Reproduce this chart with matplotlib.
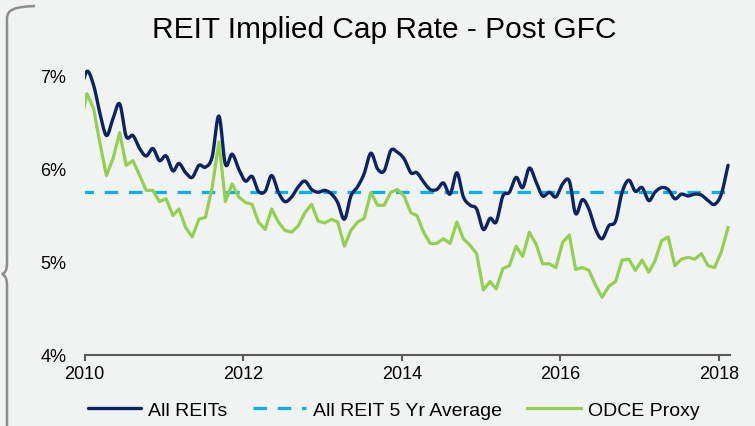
import numpy as np
import pandas as pd
import matplotlib
matplotlib.use("Agg")
from matplotlib import pyplot as plt
import matplotlib.dates as mdates
from matplotlib.path import Path
from matplotlib.patches import PathPatch

# data, monthly, Dec 2009 .. Feb 2018 (first point sits left of the axis start)
dates = pd.date_range("2009-12-01", periods=99, freq="MS") + pd.Timedelta(days=11)

all_reits = [6.80,
             7.05, 6.90, 6.61, 6.36, 6.54, 6.70, 6.35, 6.36, 6.22, 6.14, 6.22, 6.09,
             6.14, 5.98, 6.06, 5.96, 5.91, 6.04, 6.02, 6.13, 6.57, 6.05, 6.16, 6.00,
             5.87, 5.92, 5.76, 5.76, 5.93, 5.75, 5.65, 5.70, 5.81, 5.87, 5.78, 5.75,
             5.77, 5.73, 5.64, 5.46, 5.71, 5.81, 5.95, 6.17, 6.00, 5.98, 6.20, 6.18,
             6.11, 5.96, 5.96, 5.86, 5.78, 5.78, 5.85, 5.73, 5.96, 5.70, 5.61, 5.57,
             5.35, 5.47, 5.43, 5.71, 5.75, 5.91, 5.80, 6.01, 5.86, 5.71, 5.75, 5.70,
             5.84, 5.87, 5.52, 5.67, 5.57, 5.35, 5.25, 5.39, 5.44, 5.75, 5.88, 5.76,
             5.80, 5.66, 5.75, 5.80, 5.78, 5.68, 5.73, 5.71, 5.73, 5.72, 5.66, 5.62,
             5.73, 6.04]

odce_proxy = [6.45,
              6.81, 6.65, 6.29, 5.93, 6.11, 6.39, 6.04, 6.09, 5.93, 5.77, 5.77, 5.65,
              5.68, 5.50, 5.57, 5.37, 5.27, 5.46, 5.48, 5.80, 6.29, 5.65, 5.84, 5.70,
              5.64, 5.62, 5.43, 5.35, 5.57, 5.43, 5.34, 5.32, 5.39, 5.53, 5.62, 5.44,
              5.42, 5.46, 5.43, 5.17, 5.34, 5.43, 5.47, 5.75, 5.61, 5.61, 5.75, 5.78,
              5.71, 5.53, 5.50, 5.32, 5.20, 5.20, 5.25, 5.20, 5.43, 5.25, 5.18, 5.09,
              4.70, 4.79, 4.71, 4.93, 4.96, 5.17, 5.06, 5.32, 5.19, 4.98, 4.98, 4.94,
              5.21, 5.29, 4.92, 4.94, 4.91, 4.75, 4.62, 4.74, 4.79, 5.02, 5.03, 4.91,
              5.02, 4.89, 5.01, 5.23, 5.27, 4.96, 5.03, 5.05, 5.03, 5.09, 4.96, 4.94,
              5.11, 5.37]

avg_5yr = 5.75

labels = ["All REITs", "All REIT 5 Yr Average", "ODCE Proxy"]
y_ticks = [4, 5, 6, 7]

NAVY = "#0a2463"
CYAN = "#00b0f0"
GREEN = "#92d050"
BG = "#f1f2f2"
FONT = "Liberation Sans"

W, H = 755, 427


def smooth(x, y, steps=12):
  # catmull-rom, close to excel's "smoothed line"
  x = np.asarray(x, float)
  y = np.asarray(y, float)
  px = np.concatenate([[2 * x[0] - x[1]], x, [2 * x[-1] - x[-2]]])
  py = np.concatenate([[2 * y[0] - y[1]], y, [2 * y[-1] - y[-2]]])
  t = np.linspace(0, 1, steps, endpoint=False)
  xs, ys = [], []
  for i in range(1, len(px) - 2):
    for p, out in ((px, xs), (py, ys)):
      p0, p1, p2, p3 = p[i - 1], p[i], p[i + 1], p[i + 2]
      out.append(0.5 * (2 * p1 + (-p0 + p2) * t
                        + (2 * p0 - 5 * p1 + 4 * p2 - p3) * t ** 2
                        + (-p0 + 3 * p1 - 3 * p2 + p3) * t ** 3))
  xs.append([x[-1]])
  ys.append([y[-1]])
  return np.concatenate(xs), np.concatenate(ys)


def fx(px):
  return px / W


def fy(py):
  return 1 - py / H


def main():
  plt.rcParams["font.family"] = [FONT, "DejaVu Sans"]

  fig = plt.figure(figsize=(W / 100, H / 100), dpi=100, facecolor=BG)
  ax = fig.add_axes([fx(84.5), fy(356), fx(730) - fx(84.5), fy(53.75) - fy(356)])
  ax.set_facecolor(BG)

  xnum = mdates.date2num(dates)
  sx, sy = smooth(xnum, all_reits)
  ax.plot(sx, sy, color=NAVY, lw=2.4, label=labels[0], zorder=3,
          solid_capstyle="round")
  ax.plot([xnum[0], xnum[-1]], [avg_5yr, avg_5yr], color=CYAN, lw=2.3,
          dashes=(4.2, 3.4), label=labels[1], zorder=2)
  ax.plot(xnum, odce_proxy, color=GREEN, lw=2.3, label=labels[2], zorder=2)

  ax.set_xlim(mdates.date2num(pd.Timestamp("2010-01-01")),
              mdates.date2num(pd.Timestamp("2018-02-21")))
  ax.set_ylim(4, 7.25)
  ax.xaxis.set_major_locator(mdates.YearLocator(2))
  ax.xaxis.set_major_formatter(mdates.DateFormatter("%Y"))
  ax.set_yticks(y_ticks)
  ax.set_yticklabels([f"{v}%" for v in y_ticks])

  for s in ("top", "right", "left"):
    ax.spines[s].set_visible(False)
  ax.spines["bottom"].set_color("#595959")
  ax.spines["bottom"].set_linewidth(1.5)
  ax.tick_params(axis="x", length=4, width=1.5, color="#595959",
                 labelsize=13, pad=3, labelcolor="black")
  ax.tick_params(axis="y", length=0, pad=13, labelsize=13, labelcolor="black")

  fig.text(fx(384.5), fy(30), "REIT Implied Cap Rate - Post GFC",
           ha="center", va="center", fontsize=21.5, color="black")

  h, l = ax.get_legend_handles_labels()
  fig.legend(h, l, loc="center", bbox_to_anchor=(fx(393.5), fy(411)), ncol=3,
             frameon=False, fontsize=14, handlelength=2.75, handletextpad=0.36,
             columnspacing=1.3)

  # grey brace on the left edge
  verts = [(35, 7), (15, 8), (7, 10), (7, 20),
           (7, 264), (7, 274), (2, 275),
           (7, 277), (7, 286), (7, 430)]
  codes = [Path.MOVETO, Path.CURVE4, Path.CURVE4, Path.CURVE4,
           Path.LINETO, Path.CURVE3, Path.CURVE3,
           Path.CURVE3, Path.CURVE3, Path.LINETO]
  brace = Path([(fx(a), fy(b)) for a, b in verts], codes)
  fig.add_artist(PathPatch(brace, transform=fig.transFigure, fill=False,
                           edgecolor="#8c8c8c", lw=1.8))

  fig.savefig("out.png", dpi=100, facecolor=BG)


if __name__ == "__main__":
  main()
